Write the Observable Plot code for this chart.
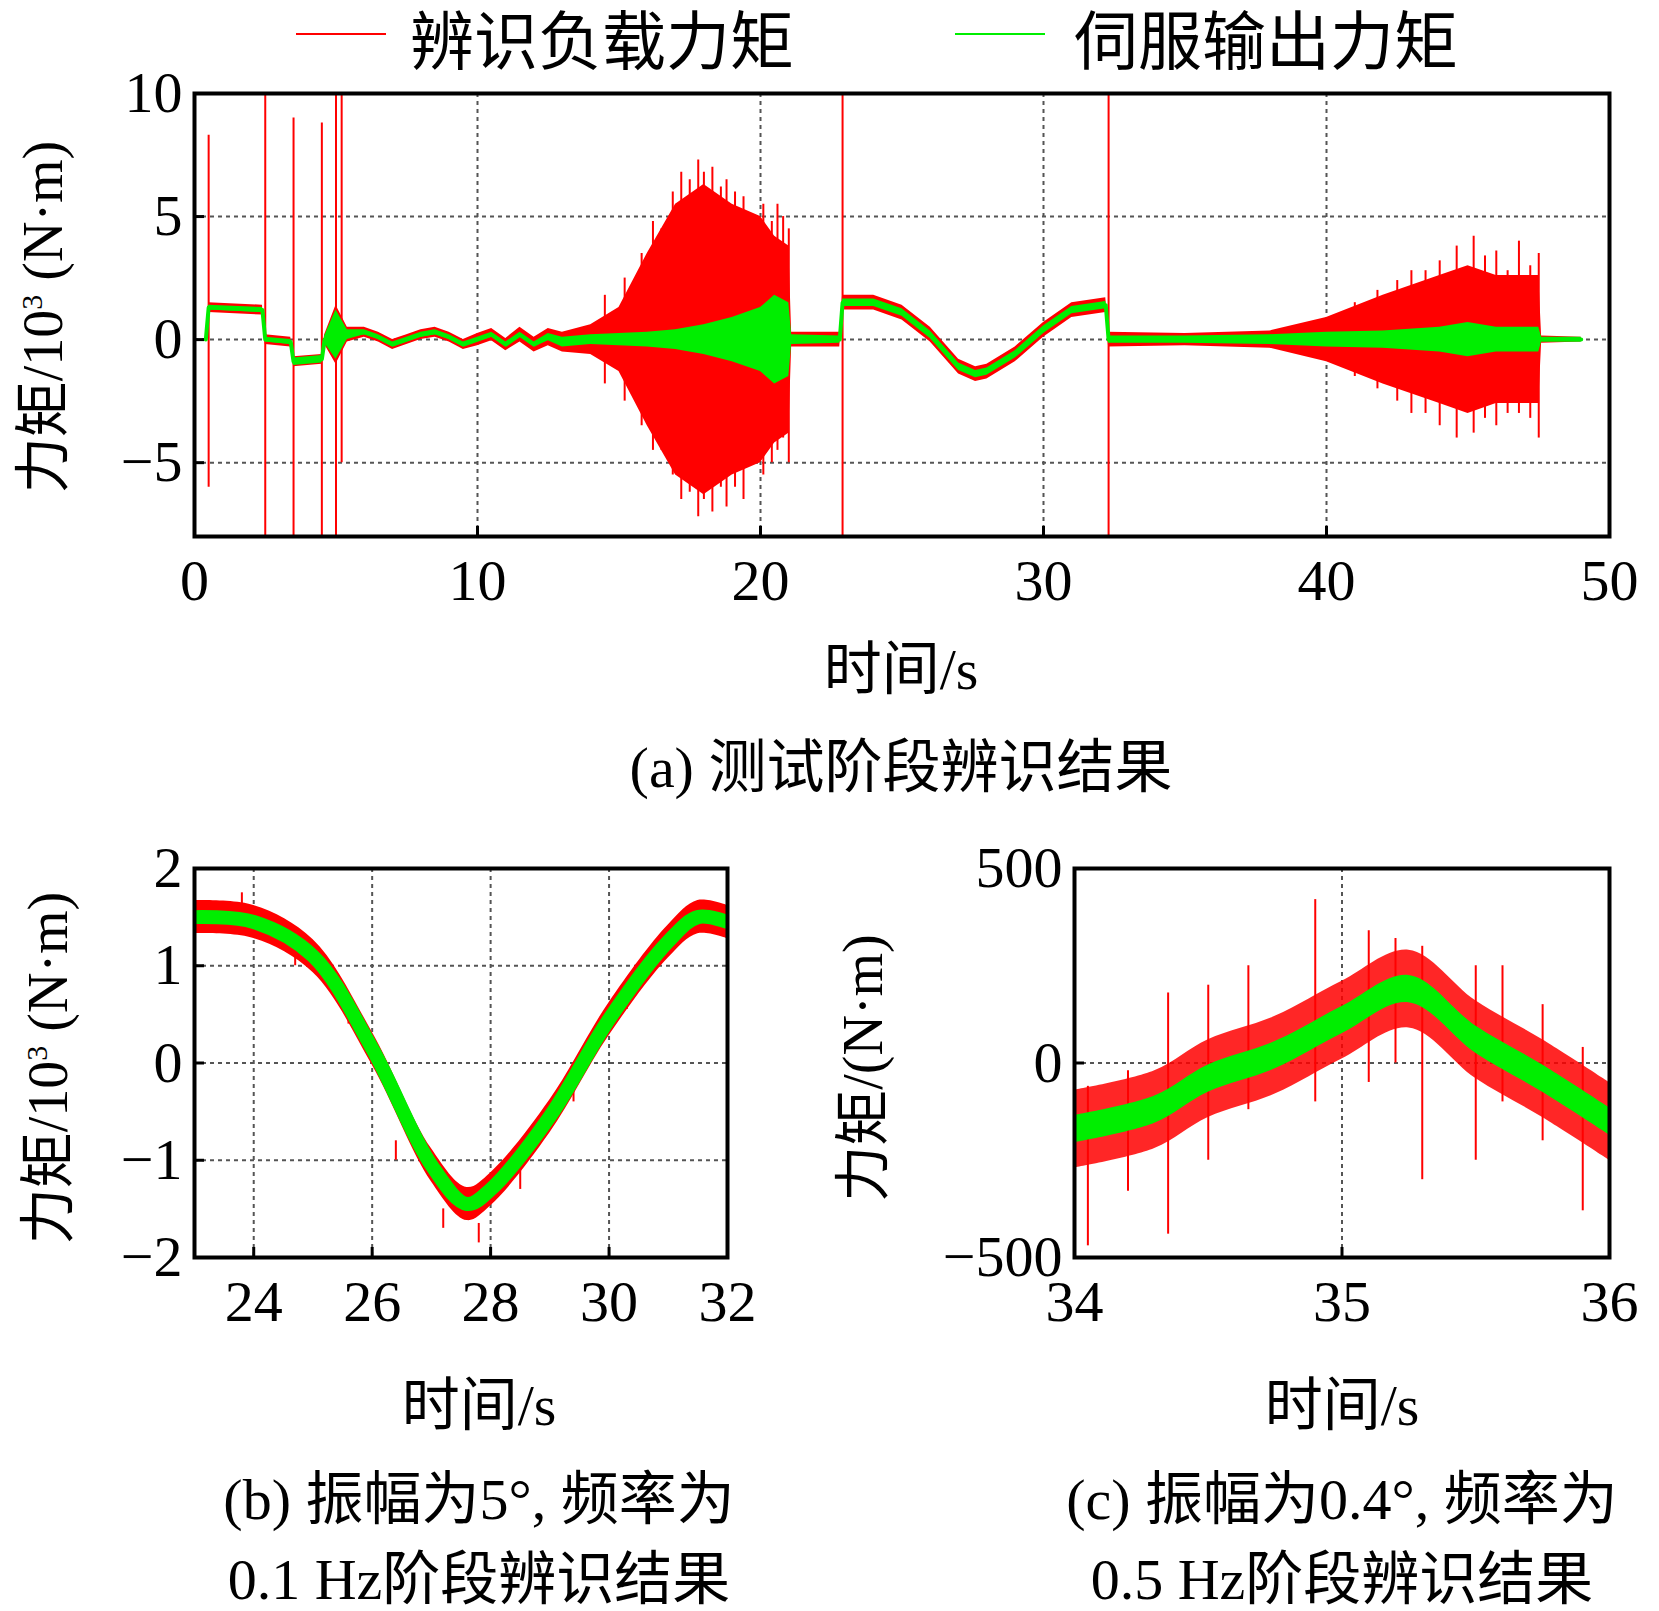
<!DOCTYPE html><html><head><meta charset="utf-8">
<script src="https://cdn.jsdelivr.net/npm/d3@7"></script>
<script src="https://cdn.jsdelivr.net/npm/@observablehq/plot@0.6"></script>
<style>
body{margin:0;background:#fff;width:1659px;height:1611px;position:relative;overflow:hidden;font-family:"Liberation Serif","Noto Sans CJK SC",serif;}
.abs{position:absolute;white-space:nowrap;color:#000;}
.c{transform:translateX(-50%);text-align:center;}
.rot{transform:translate(-50%,-50%) rotate(-90deg);}
svg{position:absolute;left:0;}
</style></head><body>
<script>
// Panel (a): [time s, servo torque 10^3 N·m, servo band half-width, identified band half-width]
const aT=[0.4,0.5,2.4,2.5,3.4,3.5,4.5,4.6,5.0,5.4,6,6.5,7,7.5,8,8.5,9,9.5,10,10.5,11,11.5,12,12.5,13,14,15,16,17,18,19,20,20.5,21,21.1,22.8,22.9,24,25,26,27,27.6,28,29,30,31,32.2,32.3,35,38,40,42,44,45,46,47.5,47.6,49];
const aG=[0,1.3,1.2,0,-0.1,-0.9,-0.8,0,0.2,0.2,0.3,0.1,-0.2,0,0.2,0.3,0.1,-0.2,0,0.2,-0.2,0.2,-0.2,0.1,-0.1,0,0,0,0,0,0,0,0,0,0,0,1.5,1.5,1.1,0.2,-1.1,-1.4,-1.3,-0.6,0.4,1.2,1.4,0,0,0,0,0,0,0,0,0,0,0];
const aGA=[0.1,0.1,0.1,0.1,0.1,0.15,0.15,0.15,1.0,0.2,0.1,0.1,0.1,0.1,0.1,0.1,0.1,0.1,0.1,0.1,0.1,0.1,0.1,0.15,0.2,0.2,0.25,0.3,0.4,0.6,0.9,1.3,1.8,1.5,0.2,0.15,0.15,0.15,0.15,0.15,0.15,0.15,0.15,0.15,0.15,0.15,0.15,0.15,0.15,0.2,0.3,0.35,0.5,0.7,0.5,0.5,0.1,0.1];
const aRA=[0.1,0.2,0.2,0.2,0.2,0.2,0.2,0.2,1.2,0.3,0.2,0.2,0.2,0.2,0.2,0.2,0.2,0.2,0.25,0.25,0.25,0.3,0.3,0.35,0.4,0.6,1.3,3.5,5.5,6.3,5.5,5,4.2,3.8,0.3,0.3,0.3,0.3,0.3,0.3,0.3,0.3,0.3,0.3,0.3,0.3,0.3,0.3,0.25,0.35,0.9,1.8,2.6,3.0,2.6,2.6,0.15,0.1];
// Panel (a) spikes of identified torque: time, high, low
const aSpT=[0.5,2.5,3.5,4.5,5.0,5.2,14.5,15.2,15.8,16.2,16.5,16.9,17.2,17.5,17.8,18.0,18.3,18.6,18.8,19.1,19.4,19.8,20.1,20.4,20.6,20.8,21.0,22.9,32.3,41.0,41.8,42.5,43.0,43.5,44.0,44.6,45.2,45.6,46.0,46.4,46.8,47.2,47.5];
const aSpH=[8.3,10,9,8.8,10,10,1.8,2.5,3.5,4.8,4.5,6.0,6.8,6.5,7.3,6.8,7,6.2,6.5,6.0,5.8,5.0,5.5,4.8,5.5,5.0,4.5,10,10,1.5,2.0,2.4,2.8,2.8,3.2,3.8,4.2,3.4,3.6,2.8,4.0,3.0,3.5];
const aSpL=[-6,-8,-8,-8,-8,-5,-1.8,-2.5,-3.5,-4.5,-4.5,-5.5,-6.5,-6.2,-7.2,-6.5,-7,-6.0,-6.8,-6.0,-6.5,-5.0,-5.5,-5.0,-4.5,-4.0,-5,-8,-8,-1.5,-2.0,-2.5,-3,-3,-3.5,-4,-3.8,-3.2,-3.5,-3.0,-3,-3.2,-4];
// Panel (b)
const bT=[23,24,25,26,27,27.6,28,29,30,31,31.5,32];
const bG=[1.5,1.45,1.1,0.15,-1.05,-1.45,-1.3,-0.55,0.45,1.25,1.5,1.45];
const bSpT=[23.8,24.7,25.6,26.4,27.2,27.8,28.5,29.4,30.3,31.3];
const bSpV=[1.75,1.2,0.6,-0.8,-1.5,-1.65,-1.1,-0.2,0.75,1.6];
// Panel (c)
const cT=[34,34.3,34.5,34.75,35,35.25,35.5,35.75,36];
const cG=[-170,-120,-40,20,110,190,60,-40,-150];
const cSpT=[34.05,34.2,34.35,34.5,34.65,34.9,35.1,35.2,35.3,35.5,35.6,35.75,35.9];
const cSpH=[-60,-20,180,200,250,420,340,320,300,250,250,150,40];
const cSpL=[-470,-330,-440,-250,-120,-100,-50,0,-300,-250,-100,-200,-380];

const red="#ff0000", green="#00ee00";
function rows(T,arrs){return T.map((t,i)=>{const o={t};for(const k in arrs)o[k]=arrs[k][i];return o;});}
function frame(o){
  const {xd,yd,xt,yt,w,h,ml,mr,mt,mb,marks}=o;
  const p=Plot.plot({width:w,height:h,marginLeft:ml,marginRight:mr,marginTop:mt,marginBottom:mb,clip:true,
    style:{fontFamily:"Liberation Serif",fontSize:"58px",background:"transparent"},
    x:{domain:xd,ticks:xt,label:null},y:{domain:yd,ticks:yt,label:null},
    marks:[
      Plot.gridX(xt,{stroke:"#555",strokeOpacity:1,strokeDasharray:"4,4",strokeWidth:2}),
      Plot.gridY(yt,{stroke:"#555",strokeOpacity:1,strokeDasharray:"4,4",strokeWidth:2}),
      ...marks,
      Plot.axisX(xt,{tickSize:-10,strokeWidth:3,tickPadding:32,fontSize:58,label:null,tickFormat:d=>String(d),clip:false}),
      Plot.axisY(yt,{tickSize:-10,strokeWidth:3,tickPadding:22,fontSize:58,label:null,tickFormat:d=>d<0?"\u2212"+(-d):String(d),clip:false}),
      Plot.frame({stroke:"#000",strokeWidth:4,clip:false})
    ]});
  p.style.top="0px";
  document.body.appendChild(p);
}
// (a)
const A=rows(aT,{g:aG,ga:aGA,ra:aRA});
const AS=rows(aSpT,{h:aSpH,l:aSpL});
frame({xd:[0,50],yd:[-8,10],xt:[0,10,20,30,40,50],yt:[-5,0,5,10],w:1659,h:640,ml:194,mr:50,mt:93,mb:104,
  marks:[
    Plot.areaY(A,{x:"t",y1:d=>d.g-d.ra,y2:d=>d.g+d.ra,fill:red}),
    Plot.ruleX(AS,{x:"t",y1:"l",y2:"h",stroke:red,strokeWidth:2}),
    Plot.areaY(A,{x:"t",y1:d=>d.g-d.ga,y2:d=>d.g+d.ga,fill:green}),
    Plot.line(A,{x:"t",y:"g",stroke:green,strokeWidth:4})
  ]});
// (b)
const B=rows(bT,{g:bG}); const BS=rows(bSpT,{v:bSpV});
frame({xd:[23,32],yd:[-2,2],xt:[24,26,28,30,32],yt:[-2,-1,0,1,2],w:760,h:1360,ml:194,mr:33,mt:868,mb:103,
  marks:[
    Plot.areaY(B,{x:"t",y1:d=>d.g-0.17,y2:d=>d.g+0.17,fill:red,curve:"catmull-rom"}),
    Plot.ruleX(BS,{x:"t",y1:d=>d.v-0.2,y2:"v",stroke:red,strokeWidth:2}),
    Plot.line(B,{x:"t",y:"g",stroke:green,strokeWidth:14,curve:"catmull-rom"})
  ]});
// (c)
const C=rows(cT,{g:cG}); const CS=rows(cSpT,{h:cSpH,l:cSpL});
frame({xd:[34,36],yd:[-500,500],xt:[34,35,36],yt:[-500,0,500],w:1659,h:1360,ml:1074,mr:50,mt:868,mb:103,
  marks:[
    Plot.areaY(C,{x:"t",y1:d=>d.g-100,y2:d=>d.g+100,fill:red,fillOpacity:0.85,curve:"catmull-rom"}),
    Plot.ruleX(CS,{x:"t",y1:"l",y2:"h",stroke:red,strokeWidth:2}),
    Plot.areaY(C,{x:"t",y1:d=>d.g-35,y2:d=>d.g+35,fill:green,curve:"catmull-rom"})
  ]});
</script>
<div class="abs" style="left:296px;top:33px;width:90px;border-top:2px solid #ff0000"></div>
<div class="abs" style="left:410px;top:-10px;font-size:64px">辨识负载力矩</div>
<div class="abs" style="left:955px;top:33px;width:90px;border-top:2px solid #00ee00"></div>
<div class="abs" style="left:1074px;top:-10px;font-size:64px">伺服输出力矩</div>
<div class="abs rot" style="left:37px;top:317px;font-size:56px">力矩/10<span style="font-size:30px;vertical-align:super">3</span> (N·m)</div>
<div class="abs c" style="left:901px;top:622px;font-size:58px">时间/s</div>
<div class="abs c" style="left:901px;top:720px;font-size:58px">(a) 测试阶段辨识结果</div>
<div class="abs rot" style="left:42px;top:1068px;font-size:56px">力矩/10<span style="font-size:30px;vertical-align:super">3</span> (N·m)</div>
<div class="abs rot" style="left:857px;top:1068px;font-size:56px">力矩/(N·m)</div>
<div class="abs c" style="left:479px;top:1358px;font-size:58px">时间/s</div>
<div class="abs c" style="left:1342px;top:1358px;font-size:58px">时间/s</div>
<div class="abs c" style="left:479px;top:1460px;font-size:58px;line-height:80px">(b) 振幅为5°, 频率为<br>0.1 Hz阶段辨识结果</div>
<div class="abs c" style="left:1342px;top:1460px;font-size:58px;line-height:80px">(c) 振幅为0.4°, 频率为<br>0.5 Hz阶段辨识结果</div>
</body></html>
